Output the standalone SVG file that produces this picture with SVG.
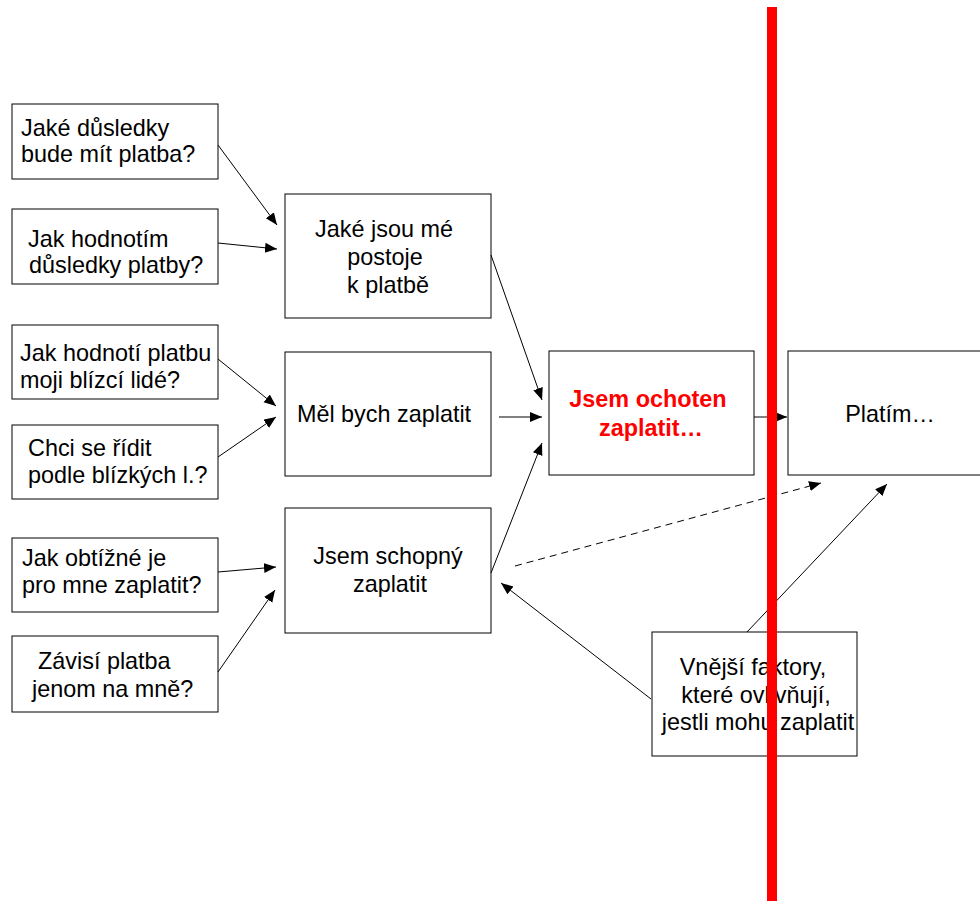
<svg xmlns="http://www.w3.org/2000/svg" width="980" height="901" viewBox="0 0 980 901">
<style>
.box{fill:#fff;stroke:#000;stroke-width:1}
.t{font-family:"Liberation Sans",Arial,sans-serif;font-size:23.4px;fill:#000}
.c{text-anchor:middle}
.red{fill:#ff0000;font-weight:bold}
.con{stroke:#000;stroke-width:1;fill:none;marker-end:url(#ah)}
.dash{stroke-dasharray:7,5}
</style>
<defs>
<marker id="ah" markerUnits="userSpaceOnUse" markerWidth="13" markerHeight="11" refX="12" refY="5" orient="auto">
<path d="M0,0 L12,5 L0,10 z" fill="#000"/>
</marker>
</defs>
<rect width="980" height="901" fill="#fff"/>
<g id="n1"><rect class="box" x="12" y="104" width="206" height="75"/><text class="t" x="21" y="136">Jaké důsledky</text><text class="t" x="21" y="162">bude mít platba?</text></g>
<g id="n2"><rect class="box" x="12" y="209" width="206" height="75"/><text class="t" x="28" y="247">Jak hodnotím</text><text class="t" x="29" y="273">důsledky platby?</text></g>
<g id="n3"><rect class="box" x="12" y="325" width="206" height="74"/><text class="t" x="20" y="361">Jak hodnotí platbu</text><text class="t" x="20" y="388">moji blízcí lidé?</text></g>
<g id="n4"><rect class="box" x="12" y="425" width="206" height="74"/><text class="t" x="28" y="456">Chci se řídit</text><text class="t" x="28" y="483">podle blízkých l.?</text></g>
<g id="n5"><rect class="box" x="12" y="538" width="206" height="74"/><text class="t" x="22" y="566">Jak obtížné je</text><text class="t" x="22" y="593">pro mne zaplatit?</text></g>
<g id="n6"><rect class="box" x="12" y="636" width="206" height="76"/><text class="t" x="38" y="669">Závisí platba</text><text class="t" x="32" y="697">jenom na mně?</text></g>
<g id="postoje"><rect class="box" x="285" y="194" width="206" height="124"/><text class="t c" x="384" y="237">Jaké jsou mé</text><text class="t c" x="385" y="265">postoje</text><text class="t c" x="388" y="293">k platbě</text></g>
<g id="mel"><rect class="box" x="285" y="352" width="206" height="124"/><text class="t c" x="384" y="422">Měl bych zaplatit</text></g>
<g id="schopny"><rect class="box" x="285" y="508" width="206" height="125"/><text class="t c" x="388" y="564">Jsem schopný</text><text class="t c" x="390" y="592">zaplatit</text></g>
<g id="ochoten"><rect class="box" x="549" y="351" width="205" height="124"/><text class="t c red" x="648" y="407">Jsem ochoten</text><text class="t c red" x="651" y="436">zaplatit…</text></g>
<g id="platim"><rect class="box" x="788" y="351" width="206" height="124"/><text class="t c" x="890" y="422">Platím…</text></g>
<g id="vnejsi"><rect class="box" x="652" y="632" width="205" height="124"/><text class="t c" x="753" y="675">Vnější faktory,</text><text class="t c" x="756" y="703">které ovlivňují,</text><text class="t c" x="758" y="730">jestli mohu zaplatit</text></g>
<g id="connectors">
<line class="con" x1="218" y1="145" x2="277" y2="225"/>
<line class="con" x1="218" y1="243" x2="277" y2="249"/>
<line class="con" x1="218" y1="359" x2="276" y2="406"/>
<line class="con" x1="218" y1="457" x2="276" y2="417"/>
<line class="con" x1="218" y1="572" x2="276" y2="567"/>
<line class="con" x1="218" y1="672" x2="275" y2="590"/>
<line class="con" x1="491" y1="255" x2="542" y2="400"/>
<line class="con" x1="499" y1="417" x2="542" y2="417"/>
<line class="con" x1="491" y1="573" x2="542" y2="443"/>
<line class="con" x1="754" y1="417" x2="787" y2="417"/>
<line class="con dash" x1="515" y1="566" x2="821" y2="483"/>
<line class="con" x1="747" y1="632" x2="887" y2="484"/>
<line class="con" x1="651" y1="699" x2="501" y2="583"/>
</g>
<rect id="redline" x="767" y="7" width="10" height="894" fill="#ff0000"/>
</svg>
